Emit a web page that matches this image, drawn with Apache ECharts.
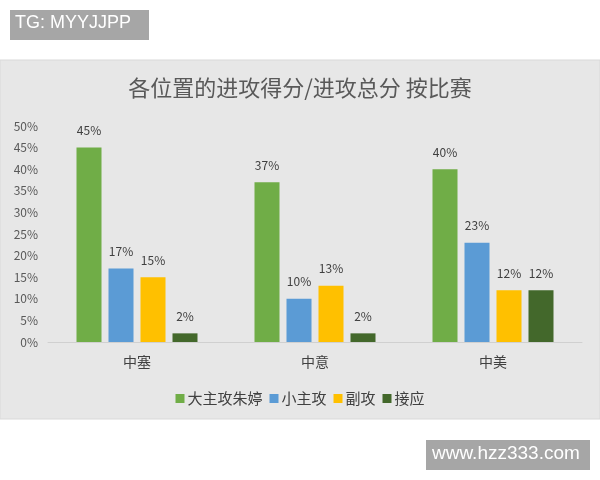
<!DOCTYPE html>
<html><head><meta charset="utf-8">
<script src="https://cdn.jsdelivr.net/npm/echarts@6/dist/echarts.min.js"></script>
<style>html,body{margin:0;padding:0;background:#fff;}#c{width:600px;height:480px;}</style>
</head><body><div id="c"></div>
<script>
const categories = ['中塞', '中意', '中美'];
const seriesNames = ['大主攻朱婷', '小主攻', '副攻', '接应'];
const bigOH = [45, 37, 40];
const smallOH = [17, 10, 23];
const middle = [15, 13, 12];
const opposite = [2, 2, 12];
const colors = ['#70ad47', '#5b9bd5', '#ffc000', '#43682b'];
const values = [bigOH, smallOH, middle, opposite];
const font = '"Noto Sans CJK SC", "Microsoft YaHei", sans-serif';

const chart = echarts.init(document.getElementById('c'));
chart.setOption({
  animation: false,
  textStyle: { fontFamily: font },
  graphic: [
    { type: 'rect', z: -10, shape: { x: 0, y: 60, width: 600, height: 359 }, style: { fill: '#e7e7e7', stroke: '#d9d9d9', lineWidth: 1 } },
    { type: 'rect', shape: { x: 10, y: 10, width: 139, height: 30 }, style: { fill: '#a6a6a6' } },
    { type: 'text', left: 15, top: 14, style: { text: 'TG: MYYJJPP', fill: '#fff', font: '18px "Liberation Sans", Arial, sans-serif' } },
    { type: 'rect', shape: { x: 426, y: 440, width: 164, height: 30 }, style: { fill: '#a6a6a6' } },
    { type: 'text', left: 432, top: 444, style: { text: 'www.hzz333.com', fill: '#fff', font: '19px "Liberation Sans", Arial, sans-serif' } }
  ],
  title: {
    text: '各位置的进攻得分/进攻总分 按比赛',
    left: 'center', top: 72,
    textStyle: { fontSize: 22, fontWeight: 'normal', color: '#595959', fontFamily: font }
  },
  legend: {
    data: seriesNames, left: 'center', top: 386,
    itemWidth: 9, itemHeight: 9, itemGap: 7, icon: 'rect',
    textStyle: { fontSize: 15, color: '#404040', padding: [0, 0, 0, -2] }
  },
  grid: { left: 48, right: 18, top: 126, bottom: 138 },
  xAxis: {
    type: 'category', data: categories,
    axisLine: { lineStyle: { color: '#d0d0d0' } },
    axisTick: { show: false },
    axisLabel: { fontSize: 14, color: '#404040', margin: 13 }
  },
  yAxis: {
    type: 'value', min: 0, max: 50, interval: 5,
    splitLine: { show: false },
    axisLine: { show: false }, axisTick: { show: false },
    axisLabel: { formatter: '{value}%', fontSize: 12, color: '#595959', margin: 10 }
  },
  series: seriesNames.map((n, i) => ({
    name: n, type: 'bar', data: values[i],
    barWidth: 25, barGap: '28%',
    itemStyle: { color: colors[i] },
    label: { show: true, position: 'top', distance: 11, formatter: '{c}%', fontSize: 12, color: '#404040' }
  }))
});
</script></body></html>
